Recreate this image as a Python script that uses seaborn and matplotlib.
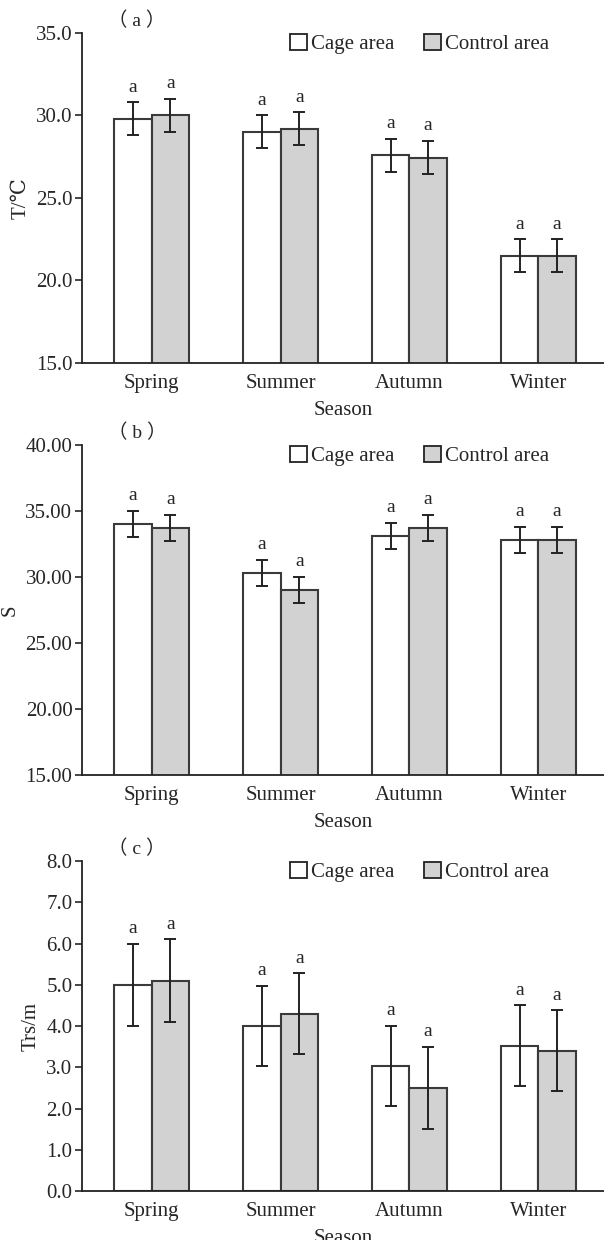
import numpy as np
import pandas as pd
import matplotlib
matplotlib.use('Agg')
import matplotlib.pyplot as plt
import seaborn as sns
from matplotlib.patches import Patch

seasons = ['Spring', 'Summer', 'Autumn', 'Winter']
groups = ['Cage area', 'Control area']

temp_cage = [29.8, 29.0, 27.6, 21.5]
temp_ctrl = [30.0, 29.2, 27.45, 21.5]
temp_err_cage = [1.0, 1.0, 1.0, 1.0]
temp_err_ctrl = [1.0, 1.0, 1.0, 1.0]

sal_cage = [34.0, 30.3, 33.1, 32.8]
sal_ctrl = [33.7, 29.0, 33.7, 32.8]
sal_err_cage = [1.0, 1.0, 1.0, 1.0]
sal_err_ctrl = [1.0, 1.0, 1.0, 1.0]

trs_cage = [5.0, 4.0, 3.03, 3.52]
trs_ctrl = [5.1, 4.3, 2.5, 3.4]
trs_err_cage = [1.0, 0.98, 0.98, 0.98]
trs_err_ctrl = [1.0, 0.98, 1.0, 0.98]

sns.set_style('white')
plt.rcParams['font.family'] = ['Liberation Serif', 'DejaVu Serif', 'Noto Sans CJK SC']
plt.rcParams['font.size'] = 14

fig = plt.figure(figsize=(6.04, 12.4), dpi=100)
boxes = [[0.136, 0.7073, 0.864, 0.2661],
         [0.136, 0.375, 0.864, 0.2661],
         [0.136, 0.0395, 0.864, 0.2661]]

panels = [
    ('（ a ）', 'T/℃', temp_cage, temp_ctrl, temp_err_cage, temp_err_ctrl, (15, 35), 5, '%.1f'),
    ('（ b ）', 'S', sal_cage, sal_ctrl, sal_err_cage, sal_err_ctrl, (15, 40), 5, '%.2f'),
    ('（ c ）', 'Trs/m', trs_cage, trs_ctrl, trs_err_cage, trs_err_ctrl, (0, 8), 1, '%.1f'),
]

colors = ['white', '#d2d2d2']
edge = '#3a3a3a'

for box, (tag, ylab, cage, ctrl, ec, et, ylim, step, fmt) in zip(boxes, panels):
    ax = fig.add_axes(box)
    df = pd.DataFrame({
        'Season': seasons * 2,
        'Group': [groups[0]] * 4 + [groups[1]] * 4,
        'Value': cage + ctrl,
        'Err': ec + et,
    })
    sns.barplot(data=df, x='Season', y='Value', hue='Group', order=seasons,
                hue_order=groups, palette=colors, width=0.58, gap=0,
                edgecolor=edge, linewidth=1.5, errorbar=None, legend=False, ax=ax)
    # error bars and letters, positioned on the drawn bars
    span = ylim[1] - ylim[0]
    for patch, (_, row) in zip(ax.patches, df.iterrows()):
        xc = patch.get_x() + patch.get_width() / 2
        ax.errorbar(xc, row['Value'], yerr=row['Err'], color='#222222',
                    capsize=4.5, capthick=1.4, elinewidth=1.4, zorder=5)
        ax.text(xc, row['Value'] + row['Err'] + span * 0.02, 'a',
                ha='center', va='bottom', fontsize=14)
    ax.set_ylim(*ylim)
    ax.set_xlim(-0.54, 3.51)
    ax.set_yticks(np.arange(ylim[0], ylim[1] + step / 2, step))
    ax.yaxis.set_major_formatter(matplotlib.ticker.FormatStrFormatter(fmt))
    ax.set_ylabel(ylab, fontsize=15)
    ax.set_xlabel('Season', fontsize=15, labelpad=6)
    ax.tick_params(axis='y', direction='out', length=5, width=1.2, left=True, labelsize=15, pad=2)
    ax.tick_params(axis='x', length=0, labelsize=15, pad=8)
    sns.despine(ax=ax)
    for s in ['left', 'bottom']:
        ax.spines[s].set_color('#222222')
        ax.spines[s].set_linewidth(1.3)
    ax.text(0.05, 1.01, tag, transform=ax.transAxes, fontsize=14,
            ha='left', va='bottom')
    handles = [Patch(facecolor=c, edgecolor='#222222', linewidth=1.3) for c in colors]
    ax.legend(handles, groups, ncol=2, frameon=False, loc='upper right',
              bbox_to_anchor=(0.93, 1.055), fontsize=15, handlelength=0.8,
              handleheight=0.8, handletextpad=0.18, columnspacing=1.45)

fig.savefig('out.png', dpi=100)
